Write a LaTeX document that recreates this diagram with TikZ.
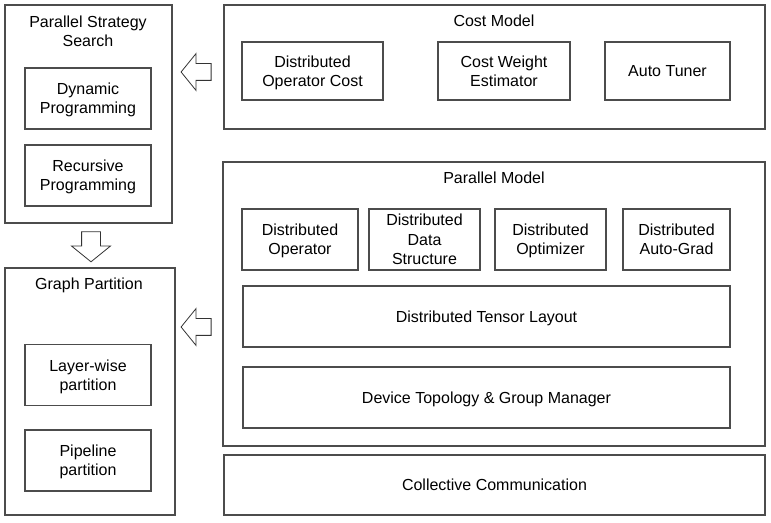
\documentclass[tikz,border=0pt]{standalone}
\usepackage{fontspec}
\setmainfont{Liberation Sans}
\usetikzlibrary{shapes.arrows}
\begin{document}
\begin{tikzpicture}[
    x=0.75pt, y=-0.75pt,
    font=\fontsize{12}{14.5}\selectfont,
    box/.style={rectangle, draw=black!70, line width=0.9pt, align=center,
                inner sep=0pt, text depth=-3.5pt, minimum height=45.75pt},
    outer/.style={box},
    title/.style={align=center, inner sep=0pt},
    blockarrow/.style={single arrow, draw=black!80, line width=0.6pt,
                inner sep=6pt, single arrow head extend=7.5pt,
                single arrow tip angle=102, minimum height=22.5pt}
]
\useasboundingbox (0,0) rectangle (771,523);

% left column
\node (search) [outer, minimum width=125.25pt, minimum height=163.5pt] at (88.5,114) {};
\node (searchtitle) [title] at (88,31) {Parallel Strategy\\Search};
\node (dynamic) [box, minimum width=94.5pt] at (88,98.5) {Dynamic\\Programming};
\node (recursive) [box, minimum width=94.5pt] at (88,175.5) {Recursive\\Programming};

\node (partition) [outer, minimum width=127.5pt, minimum height=185.25pt] at (90,391.5) {};
\node (partitiontitle) [title] at (89,285) {Graph Partition};
\node (layerwise) [box, minimum width=94.5pt] at (88,375) {Layer-wise\\partition};
\node (pipeline) [box, minimum width=94.5pt] at (88,460.5) {Pipeline\\partition};

% cost model
\node (cost) [outer, minimum width=405.75pt, minimum height=93pt] at (494.5,67) {};
\node (costtitle) [title] at (494,21) {Cost Model};
\node (opcost) [box, minimum width=105.75pt, minimum height=43.5pt] at (312.5,71) {Distributed\\Operator Cost};
\node (weight) [box, minimum width=99pt, minimum height=43.5pt] at (504,71) {Cost Weight\\Estimator};
\node (tuner) [box, minimum width=93.75pt, minimum height=43.5pt] at (667.5,71) {Auto Tuner};

% parallel model
\node (parallel) [outer, minimum width=406.5pt, minimum height=213pt] at (494,304) {};
\node (paralleltitle) [title] at (494,178) {Parallel Model};
\node (operator) [box, minimum width=87pt] at (300,239.5) {Distributed\\Operator};
\node (datastruct) [box, minimum width=83.25pt] at (424.5,239.5) {Distributed\\Data\\Structure};
\node (optimizer) [box, minimum width=83.25pt] at (550.5,239.5) {Distributed\\Optimizer};
\node (autograd) [box, minimum width=80.25pt] at (676.5,239.5) {Distributed\\Auto-Grad};
\node (layout) [box, minimum width=365.25pt] at (486.5,316.5) {Distributed Tensor Layout};
\node (topology) [box, minimum width=365.25pt] at (486.5,397.5) {Device Topology \& Group Manager};

\node (collective) [outer, minimum width=405.75pt, minimum height=45pt] at (494.5,485) {Collective Communication};

% block arrows
\node (costarrow) [blockarrow, shape border rotate=180] at (199.5,72) {};
\node (searcharrow) [blockarrow, shape border rotate=270, inner sep=6.75pt] at (91,243) {};
\node (parallelarrow) [blockarrow, shape border rotate=180] at (199.5,327) {};
\end{tikzpicture}
\end{document}
